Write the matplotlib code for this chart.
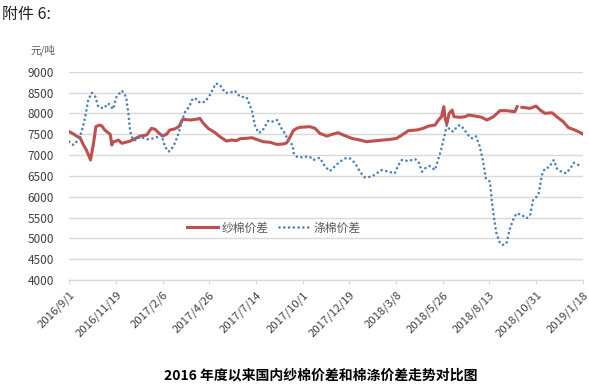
import numpy as np
import matplotlib
matplotlib.use("Agg")
import matplotlib.pyplot as plt
from datetime import date, timedelta

plt.rcParams['font.family'] = ['Noto Sans CJK SC', 'DejaVu Sans']

start = date(2016, 9, 1)

# 纱棉价差: days since 2016/9/1 and values (元/吨); NaN marks the gap
yarn_days = [0, 7, 14, 18, 24, 29, 36, 41, 45, 51, 55, 60, 69, 70, 72, 74, 77, 83, 89,
             103, 120, 131, 139, 145, 151, 158, 165, 170, 179, 185, 187, 192, 205, 216,
             221, 227, 235, 247, 255, 266, 275, 283, 289, 300, 309, 317, 328, 340, 351,
             362, 368, 374, 379, 385, 391, 407, 416, 424, 436, 447, 455, 464, 478, 492,
             503, 520, 543, 554, 563, 574, 588, 599, 608, 619, 625, 630, 634, 636, 639,
             643, 648, 651, 661, 670, 676, 687, 698, 707, 718, 729, 740, 754, 758, 762,
             766, 780, 790, 797, 805, 817, 825, 836, 845, 853, 862, 869]
yarn_vals = [7560, 7505, 7440, 7425, 7240, 7120, 6880, 7280, 7680, 7720, 7700, 7600, 7500,
             7440, 7240, 7320, 7320, 7360, 7280, 7335, 7455, 7480, 7640, 7620, 7535, 7455,
             7505, 7600, 7630, 7680, 7720, 7860, 7840, 7860, 7880, 7760, 7640, 7535, 7440,
             7335, 7360, 7345, 7390, 7400, 7415, 7375, 7320, 7305, 7255, 7265, 7290, 7440,
             7585, 7640, 7665, 7680, 7640, 7520, 7455, 7505, 7535, 7480, 7400, 7360, 7320,
             7345, 7375, 7400, 7480, 7585, 7600, 7640, 7695, 7720, 7840, 7920, 8160, 7880,
             7745, 8000, 8080, 7920, 7905, 7920, 7960, 7935, 7905, 7840, 7920, 8065, 8065,
             8040, 8160, np.nan, 8145, 8120, 8175, 8080, 8000, 8015, 7920, 7800, 7655, 7615,
             7560, 7505]

# 涤棉价差
poly_days = [0, 7, 15, 21, 27, 32, 38, 44, 49, 58, 66, 74, 80, 89, 96, 100, 103, 108,
             114, 120, 131, 142, 151, 156, 162, 168, 173, 179, 185, 190, 196, 203, 209,
             216, 221, 230, 238, 248, 255, 264, 272, 280, 289, 300, 309, 314, 320, 326,
             331, 337, 345, 352, 360, 365, 371, 378, 380, 385, 388, 399, 407, 413, 424,
             433, 441, 450, 458, 467, 475, 484, 492, 500, 512, 520, 529, 540, 551, 557,
             563, 574, 585, 591, 597, 602, 610, 619, 625, 630, 636, 639, 644, 650, 656,
             661, 667, 675, 681, 688, 694, 700, 705, 712, 715, 719, 723, 729, 735, 740,
             745, 751, 757, 766, 774, 780, 785, 794, 800, 805, 812, 820, 826, 833, 841,
             848, 854, 862, 867]
poly_vals = [7320, 7240, 7360, 7560, 7920, 8320, 8495, 8400, 8160, 8120, 8240, 8100, 8400,
             8545, 8400, 8000, 7560, 7360, 7360, 7440, 7375, 7400, 7440, 7480, 7200, 7080,
             7135, 7295, 7520, 7800, 8040, 8160, 8360, 8340, 8255, 8280, 8440, 8720, 8680,
             8495, 8495, 8545, 8400, 8385, 8080, 7720, 7535, 7560, 7680, 7825, 7800, 7840,
             7615, 7520, 7320, 7240, 7040, 6960, 6935, 6960, 6960, 6880, 6935, 6720, 6615,
             6735, 6840, 6920, 6920, 6800, 6600, 6465, 6480, 6560, 6640, 6600, 6560, 6760,
             6880, 6855, 6905, 6840, 6600, 6680, 6735, 6640, 6920, 7160, 7520, 7720, 7600,
             7560, 7680, 7720, 7640, 7480, 7400, 7455, 7240, 6880, 6440, 6360, 5920, 5480,
             5120, 4880, 4840, 4880, 5200, 5440, 5600, 5560, 5480, 5560, 5920, 6040, 6520,
             6680, 6705, 6880, 6655, 6600, 6560, 6680, 6815, 6760, 6705]

tick_labels = ['2016/9/1', '2016/11/19', '2017/2/6', '2017/4/26', '2017/7/14', '2017/10/1',
               '2017/12/19', '2018/3/8', '2018/5/26', '2018/8/13', '2018/10/31', '2019/1/18']
y_ticks = list(range(4000, 9001, 500))

def to_dates(days):
    return [start + timedelta(days=int(d)) for d in days]

tick_dates = [date(*map(int, s.split('/'))) for s in tick_labels]

fig = plt.figure(figsize=(5.89, 3.88), dpi=100)
ax = fig.add_axes([69.3 / 589, 1 - 280 / 388, (582.7 - 69.3) / 589, (280 - 71.7) / 388])

red = '#c0504d'
blue = '#4a7ebb'
ax.plot(to_dates(yarn_days), yarn_vals, color=red, lw=2.2, solid_joinstyle='round',
        label='纱棉价差', zorder=3)
ax.plot(to_dates(poly_days), poly_vals, color=blue, lw=1.9, linestyle=(0, (0.01, 1.8)),
        dash_capstyle='round', label='涤棉价差', zorder=3)

ax.set_xlim(tick_dates[0], tick_dates[-1])
ax.set_ylim(4000, 9000)
ax.set_yticks(y_ticks)
ax.set_yticklabels([str(v) for v in y_ticks])
ax.set_xticks(tick_dates)
ax.set_xticklabels(tick_labels, rotation=45, ha='right', rotation_mode='anchor')

ax.grid(axis='y', color='#d9d9d9', lw=1.0)
ax.set_axisbelow(True)
for s in ['left', 'right', 'top']:
    ax.spines[s].set_visible(False)
ax.spines['bottom'].set_color('#d9d9d9')
ax.spines['bottom'].set_linewidth(1.0)
ax.tick_params(axis='y', length=0, labelsize=8.5, labelcolor='#404040', pad=11)
ax.tick_params(axis='x', length=3, color='#d9d9d9', labelsize=8.2, labelcolor='#404040', pad=4)

leg = fig.legend(loc='center', bbox_to_anchor=(274 / 589, 1 - 228 / 388), ncol=2,
                 frameon=False, fontsize=8.5, handlelength=2.6, columnspacing=0.9,
                 handletextpad=0.3)
for t in leg.get_texts():
    t.set_color('#595959')

fig.text(2 / 589, 1 - 14 / 388, '附件 6:', fontsize=11.5, va='center', ha='left', color='#222222')
fig.text(43 / 589, 1 - 50 / 388, '元/吨', fontsize=7.5, va='center', ha='center', color='#595959')
fig.text(321 / 589, 1 - 376 / 388, '2016 年度以来国内纱棉价差和棉涤价差走势对比图',
         fontsize=10, fontweight='bold', va='center', ha='center', color='black')

fig.savefig('out.png', dpi=100)
